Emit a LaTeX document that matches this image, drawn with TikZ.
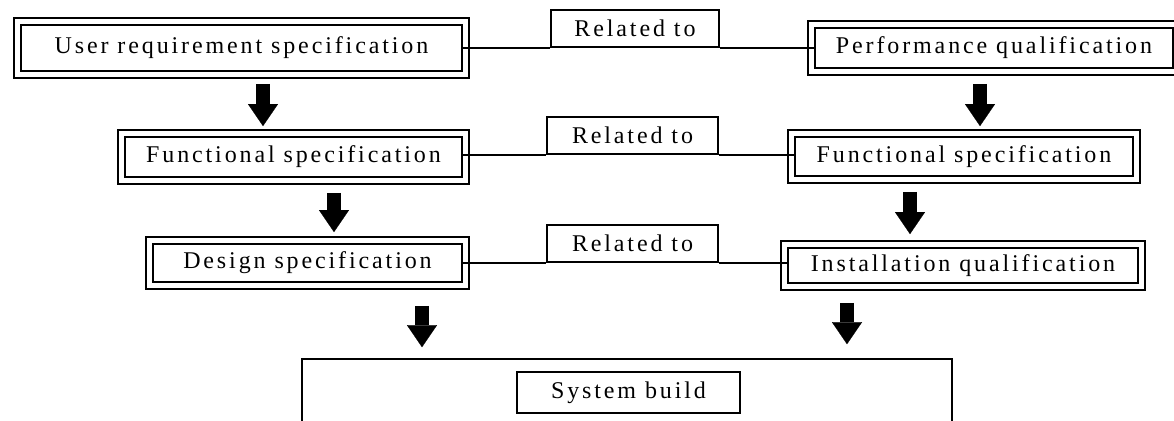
\documentclass[tikz,border=0pt]{standalone}
\usepackage{fontspec}
\setmainfont{Liberation Serif}[LetterSpace=12]
\usepackage{tikz}
\usetikzlibrary{arrows.meta}

\tikzset{
  spec/.style={draw, double, double distance=2.6pt, line width=0.8pt, font=\fontsize{12}{14}\selectfont},
  relbox/.style={draw, line width=0.8pt, font=\fontsize{12}{14}\selectfont},
  link/.style={line width=0.75pt},
  bigarrow/.style={line width=7pt, -{Triangle[width=15pt,length=11pt,line width=0.1pt]}},
}

\begin{document}
\begin{tikzpicture}[x=0.5pt, y=-0.5pt]
    \useasboundingbox (0,0) rectangle (1174,420);
    \clip (0,0) rectangle (1174,420);

    % Nodes
    \node[spec, minimum width=224pt, minimum height=26.5pt] (usr) at (241.5,48) {User requirement specification};
    \node[spec, minimum width=182.5pt, minimum height=23.5pt] (perf) at (994,48) {Performance qualification};
    \node[spec, minimum width=172pt, minimum height=23.5pt] (funL) at (293.5,157) {Functional specification};
    \node[spec, minimum width=172.5pt, minimum height=23pt] (funR) at (964,156.5) {Functional specification};
    \node[spec, minimum width=158pt, minimum height=22.5pt] (des) at (307.5,263) {Design specification};
    \node[spec, minimum width=178.5pt, minimum height=21pt] (inst) at (963,265.5) {Installation qualification};

    \node[relbox, minimum width=84pt, minimum height=18.5pt] (rel1) at (635,28.5) {Related to};
    \node[relbox, minimum width=85.5pt, minimum height=18.5pt] (rel2) at (632.5,135.5) {Related to};
    \node[relbox, minimum width=85.5pt, minimum height=18.5pt] (rel3) at (632.5,243.5) {Related to};

    \node[draw, line width=0.8pt, minimum width=325pt, minimum height=41pt] (sysbox) at (627,400) {};
    \node[relbox, minimum width=111.5pt, minimum height=20.5pt] (build) at (628.5,392.5) {System build};

    % Related-to links
    \draw[link, shorten <=-1.7pt] (rel1.south west -| usr.east) -- (rel1.south west);
    \draw[link, shorten >=-1.7pt] (rel1.south east) -- (rel1.south east -| perf.west);
    \draw[link, shorten <=-1.7pt] (rel2.south west -| funL.east) -- (rel2.south west);
    \draw[link, shorten >=-1.7pt] (rel2.south east) -- (rel2.south east -| funR.west);
    \draw[link, shorten <=-1.7pt] (rel3.south west -| des.east) -- (rel3.south west);
    \draw[link, shorten >=-1.7pt] (rel3.south east) -- (rel3.south east -| inst.west);

    % Block arrows
    \draw[bigarrow, shorten <=4.3pt, shorten >=3.3pt] (263,0 |- usr.south) -- (263,0 |- funL.north);
    \draw[bigarrow, shorten <=5.8pt, shorten >=3.8pt] (334,0 |- funL.south) -- (334,0 |- des.north);
    \draw[bigarrow, shorten <=5.8pt, shorten >=3.3pt] (980,0 |- perf.south) -- (980,0 |- funR.north);
    \draw[bigarrow, shorten <=5.8pt, shorten >=4.8pt] (910,0 |- funR.south) -- (910,0 |- inst.north);
    \draw[bigarrow, shorten <=9.8pt, shorten >=5.5pt] (422,0 |- des.south) -- (422,0 |- sysbox.north);
    \draw[bigarrow, shorten <=7.8pt, shorten >=7pt] (847,0 |- inst.south) -- (847,0 |- sysbox.north);
\end{tikzpicture}
\end{document}
